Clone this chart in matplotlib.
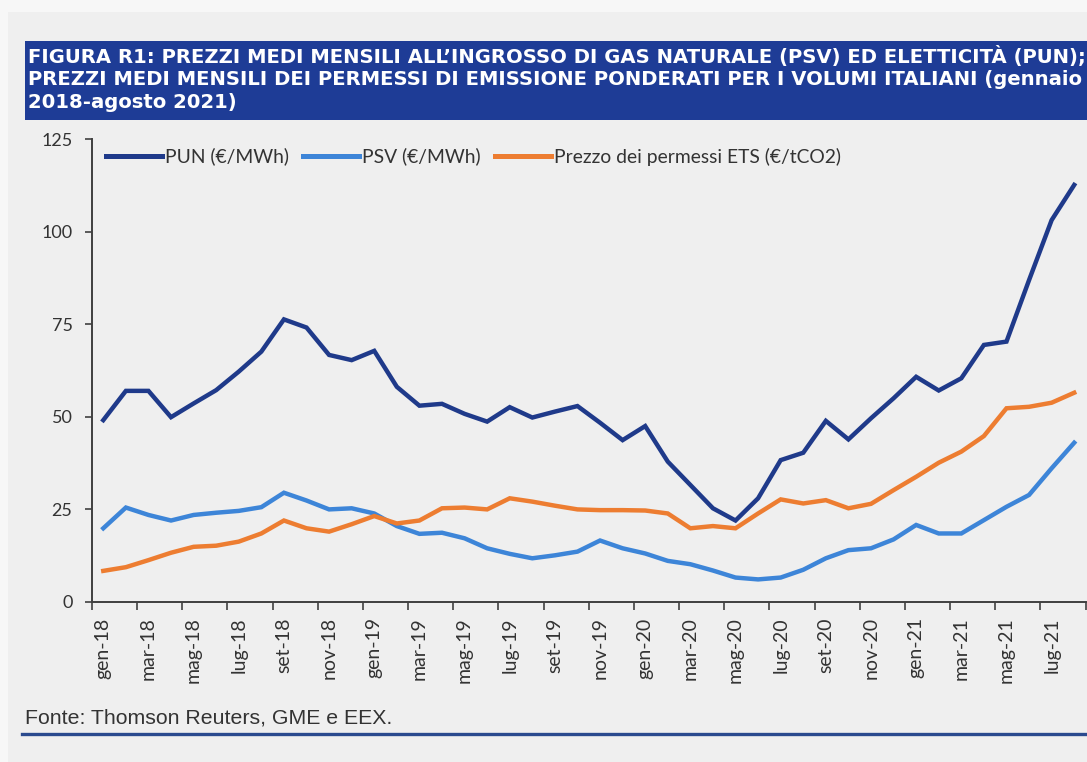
import matplotlib
matplotlib.use("Agg")
import matplotlib.pyplot as plt
from matplotlib.patches import Rectangle
from matplotlib.lines import Line2D
import numpy as np

# ---------------- data ----------------
months = ["gen", "feb", "mar", "apr", "mag", "giu", "lug", "ago", "set", "ott", "nov", "dic"]
categories = [f"{m}-{y}" for y in ["18", "19", "20", "21"] for m in months][:44]

pun = [49.1, 57.0, 57.0, 49.9, 53.6, 57.2, 62.2, 67.6, 76.3, 74.1, 66.7, 65.3,
       67.8, 58.1, 53.0, 53.5, 50.8, 48.7, 52.6, 49.8, 51.4, 52.9, 48.4, 43.7,
       47.5, 37.9, 31.6, 25.3, 22.0, 28.0, 38.3, 40.3, 48.9, 43.9, 49.6, 55.0,
       60.8, 57.1, 60.4, 69.4, 70.3, 86.9, 103.1, 112.6]
psv = [19.9, 25.5, 23.5, 22.0, 23.5, 24.1, 24.6, 25.6, 29.5, 27.4, 25.0, 25.3,
       23.9, 20.5, 18.4, 18.7, 17.2, 14.5, 13.0, 11.8, 12.6, 13.6, 16.6, 14.5,
       13.1, 11.1, 10.2, 8.5, 6.6, 6.1, 6.6, 8.7, 11.8, 14.0, 14.5, 16.9,
       20.8, 18.5, 18.5, 22.1, 25.7, 28.9, 36.1, 43.0]
ets = [8.4, 9.4, 11.3, 13.3, 14.9, 15.2, 16.3, 18.5, 22.0, 19.9, 19.0, 21.0,
       23.2, 21.2, 22.0, 25.3, 25.5, 25.0, 28.0, 27.1, 26.0, 25.0, 24.8, 24.8,
       24.7, 23.9, 19.9, 20.5, 19.9, 23.9, 27.7, 26.6, 27.5, 25.3, 26.5, 30.2,
       33.8, 37.6, 40.6, 44.8, 52.3, 52.7, 53.8, 56.5]
series_labels = ["PUN (€/MWh)", "PSV (€/MWh)", "Prezzo dei permessi ETS (€/tCO2)"]
yticks = [0, 25, 50, 75, 100, 125]

title_lines = [
    "FIGURA R1: PREZZI MEDI MENSILI ALL\u2019INGROSSO DI GAS NATURALE (PSV) ED ELETTICITÀ (PUN);",
    "PREZZI MEDI MENSILI DEI PERMESSI DI EMISSIONE PONDERATI PER I VOLUMI ITALIANI (gennaio",
    "2018-agosto 2021)",
]
source_text = "Fonte: Thomson Reuters, GME e EEX."

# ---------------- style ----------------
W, H = 1087, 762
BG_OUT = "#f7f7f7"
BG = "#efefef"
NAVY = "#1e3c96"
C_PUN = "#1f3a8a"
C_PSV = "#3d85d8"
C_ETS = "#ed7d31"
AXC = "#404040"
TXT = "#333333"
SANS = ["Lato", "DejaVu Sans"]

fig = plt.figure(figsize=(W / 100, H / 100), dpi=100, facecolor=BG_OUT)

def fx(x):
    return x / W

def fy(y):
    return 1 - y / H

# grey panel
fig.patches.append(Rectangle((fx(8), 0), 1 - fx(8), fy(12), transform=fig.transFigure,
                             facecolor=BG, edgecolor="none", zorder=-10))
# title box
fig.patches.append(Rectangle((fx(25), fy(119.5)), 1 - fx(25), (119.5 - 40.5) / H,
                             transform=fig.transFigure, facecolor=NAVY,
                             edgecolor="none", zorder=-5))
# bottom rule
fig.add_artist(Line2D([fx(22), 1.0], [fy(733.5), fy(733.5)], transform=fig.transFigure,
                      color="#2a4a8e", lw=2.4, zorder=2))

renderer = fig.canvas.get_renderer()

def fit_text(x, y, s, target_w, size0, **kw):
    t = fig.text(fx(x), fy(y), s, fontsize=size0, **kw)
    w = t.get_window_extent(renderer=renderer).width
    t.set_fontsize(size0 * target_w / w)
    return t

# title text
t2 = fit_text(28, 85, title_lines[1], 1053, 14, color="white", fontweight="heavy",
              family="DejaVu Sans", va="baseline", ha="left", zorder=3)
tsize = t2.get_fontsize()
for s, yb in [(title_lines[0], 63.5), (title_lines[2], 107.5)]:
    fig.text(fx(28), fy(yb), s, fontsize=tsize, color="white", fontweight="heavy",
             family="DejaVu Sans", va="baseline", ha="left", zorder=3)

# source
fit_text(25, 723, source_text, 368, 14, color="#333333", family=["Liberation Sans", "DejaVu Sans"],
         va="baseline", ha="left", zorder=3)

# ---------------- axes ----------------
ax_left, ax_right = 92, 1085.5
ax_top, ax_bot = 139, 602
ax = fig.add_axes([fx(ax_left), fy(ax_bot), (ax_right - ax_left) / W, (ax_bot - ax_top) / H])
ax.set_zorder(1)
ax.set_facecolor("none")
x = np.arange(len(categories))
ax.plot(x, pun, color=C_PUN, lw=3.2, solid_joinstyle="miter", label=series_labels[0], zorder=3)
ax.plot(x, psv, color=C_PSV, lw=3.2, solid_joinstyle="miter", label=series_labels[1], zorder=3)
ax.plot(x, ets, color=C_ETS, lw=3.2, solid_joinstyle="miter", label=series_labels[2], zorder=3)
ax.set_xlim(-0.5, len(categories) - 0.5)
ax.set_ylim(0, 125)

for s in ["top", "right"]:
    ax.spines[s].set_visible(False)
for s in ["left", "bottom"]:
    ax.spines[s].set_color(AXC)
    ax.spines[s].set_linewidth(1.4)
ax.spines["bottom"].set_zorder(4)

ax.set_yticks(yticks)
ax.set_yticklabels([str(v) for v in yticks])
ax.tick_params(axis="y", direction="out", length=5, width=1.2, color=AXC,
               labelsize=13, labelcolor=TXT, pad=9)
for lab in ax.get_yticklabels():
    lab.set_family(SANS)

ax.set_xticks(np.arange(-0.5, len(categories), 2))
ax.set_xticklabels([])
ax.tick_params(axis="x", which="major", direction="out", length=6, width=1.2, color=AXC)
ax.set_xticks(x[::2], minor=True)
ax.set_xticklabels(categories[::2], minor=True, rotation=90)
ax.tick_params(axis="x", which="minor", length=0, pad=11, labelsize=14, labelcolor=TXT)
for lab in ax.get_xticklabels(minor=True):
    lab.set_family(SANS)
    lab.set_verticalalignment("top")

leg = ax.legend(loc="center left", bbox_to_anchor=(fx(106), fy(156.5)),
                bbox_transform=fig.transFigure, ncol=3, frameon=False,
                handlelength=2.9, handletextpad=0.15, columnspacing=0.75,
                prop={"family": SANS, "size": 13.9}, borderaxespad=0, borderpad=0)
for t in leg.get_texts():
    t.set_color("#333333")
for h in leg.get_lines():
    h.set_linewidth(3.6)

fig.savefig("out.png", dpi=100, facecolor=fig.get_facecolor())
